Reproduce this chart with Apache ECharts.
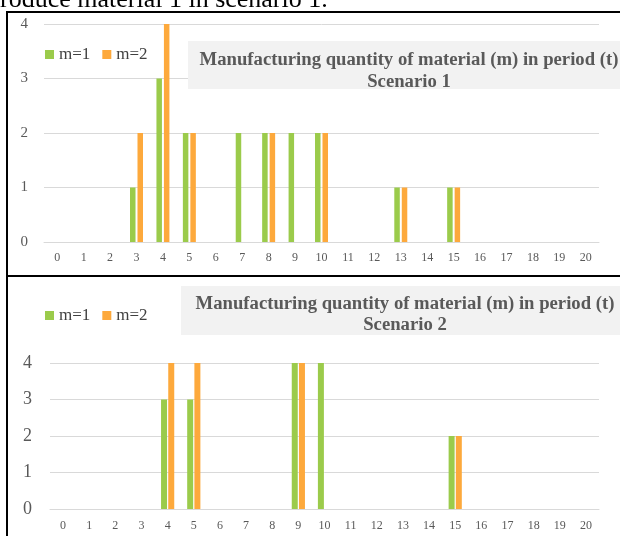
<!DOCTYPE html>
<html><head><meta charset="utf-8">
<script src="https://cdn.jsdelivr.net/npm/echarts@6/dist/echarts.min.js"></script>
<style>html,body{margin:0;padding:0;background:#fff}#c{width:620px;height:536px}</style>
</head><body><div id="c"></div>
<script>
var periods = ['0','1','2','3','4','5','6','7','8','9','10','11','12','13','14','15','16','17','18','19','20'];
var seriesNames = ['m=1','m=2'];
var s1m1 = [0,0,0,1,3,2,0,2,2,2,2,0,0,1,0,1,0,0,0,0,0];
var s1m2 = [0,0,0,2,4,2,0,0,2,0,2,0,0,1,0,1,0,0,0,0,0];
var s2m1 = [0,0,0,0,3,3,0,0,0,4,4,0,0,0,0,2,0,0,0,0,0];
var s2m2 = [0,0,0,0,4,4,0,0,0,4,0,0,0,0,0,2,0,0,0,0,0];
var yTicks = [0,1,2,3,4];
var titleText = 'Manufacturing quantity of material (m) in period (t)';
var scen1 = 'Scenario 1', scen2 = 'Scenario 2';
var captionText = 'roduce material 1 in scenario 1.';

var F = '"Liberation Serif", "Times New Roman", serif';
var GREEN = '#9bcb4b', ORANGE = '#fda93c', GRID = '#d9d9d9', TXT = '#595959';

var chart = echarts.init(document.getElementById('c'), null, {renderer:'canvas'});

function xAx(gi, margin){
  return {type:'category', gridIndex:gi, data:periods,
    axisLine:{show:true, lineStyle:{color:GRID, width:1}}, axisTick:{show:false},
    axisLabel:{color:TXT, fontFamily:F, fontSize:12, margin:margin}};
}
function yAx(gi, fs, margin){
  return {type:'value', gridIndex:gi, min:yTicks[0], max:yTicks[yTicks.length-1], interval:1,
    axisLine:{show:false}, axisTick:{show:false},
    splitLine:{lineStyle:{color:GRID, width:1}},
    axisLabel:{color:TXT, fontFamily:F, fontSize:fs, margin:margin}};
}
function bar(name, data, gi, color, bw, gap){
  return {type:'bar', name:name, data:data, xAxisIndex:gi, yAxisIndex:gi,
    barWidth:bw, barGap:gap, itemStyle:{color:color}, z:3, animation:false};
}

chart.setOption({
  animation:false,
  textStyle:{fontFamily:F},
  grid:[
    {left:44, right:21, top:24, height:218},
    {left:50, right:21, top:363, height:146}
  ],
  xAxis:[xAx(0,10), xAx(1,11)],
  yAxis:[yAx(0,15,16), yAx(1,18,18)],
  legend:[
    {data:seriesNames, left:40, top:41, icon:'rect', itemWidth:9, itemHeight:9, itemGap:12,
     textStyle:{fontFamily:F, fontSize:17, color:'#404040'}},
    {data:seriesNames, left:40, top:302, icon:'rect', itemWidth:9, itemHeight:9, itemGap:12,
     textStyle:{fontFamily:F, fontSize:17, color:'#404040'}}
  ],
  title:[
    {text:titleText+'\n'+scen1, left:404, top:44, textAlign:'center', z:10,
     textStyle:{fontFamily:F, fontSize:18.7, fontWeight:'bold', color:TXT, lineHeight:22}},
    {text:titleText+'\n'+scen2, left:400, top:289, textAlign:'center', z:10,
     textStyle:{fontFamily:F, fontSize:18.7, fontWeight:'bold', color:TXT, lineHeight:21}}
  ],
  graphic:[
    {type:'rect', shape:{x:188, y:41, width:440, height:48}, style:{fill:'#f2f2f2'}, z:5, silent:true},
    {type:'rect', shape:{x:181, y:286, width:450, height:49}, style:{fill:'#f2f2f2'}, z:5, silent:true},
    {type:'line', shape:{x1:7, y1:12, x2:620, y2:12}, style:{stroke:'#000', lineWidth:2}, z:20},
    {type:'line', shape:{x1:7, y1:276, x2:620, y2:276}, style:{stroke:'#000', lineWidth:2}, z:20},
    {type:'line', shape:{x1:7, y1:11, x2:7, y2:536}, style:{stroke:'#000', lineWidth:2}, z:20},
    {type:'text', x:0, y:13, style:{text:captionText, font:'26px '+F, fill:'#000', textVerticalAlign:'bottom'}, z:19}
  ],
  series:[
    bar(seriesNames[0], s1m1, 0, GREEN, 5.5, '36%'),
    bar(seriesNames[1], s1m2, 0, ORANGE, 5.5, '36%'),
    bar(seriesNames[0], s2m1, 1, GREEN, 6, '20%'),
    bar(seriesNames[1], s2m2, 1, ORANGE, 6, '20%')
  ]
});
</script></body></html>
